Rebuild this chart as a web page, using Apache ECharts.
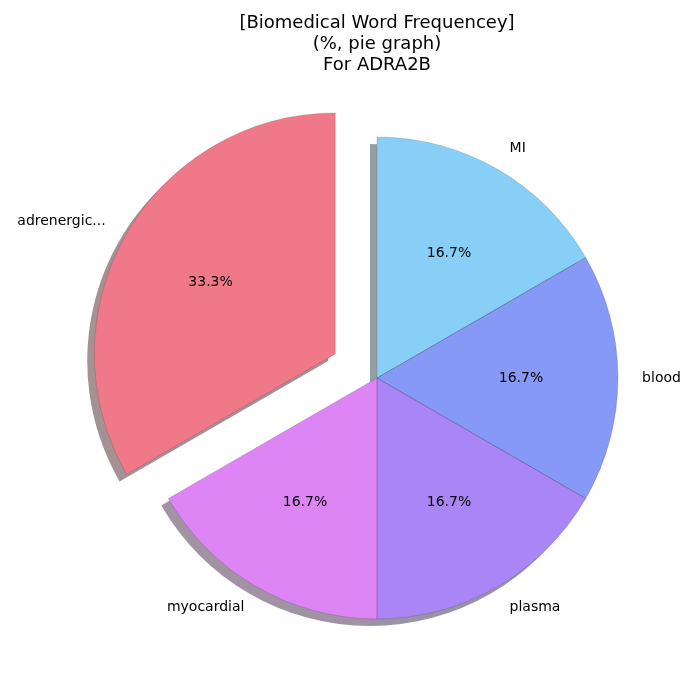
<!DOCTYPE html>
<html>
<head>
    <meta charset="utf-8">
    <title>ADRA2B pie</title>
    <script src="https://cdn.jsdelivr.net/npm/echarts@6/dist/echarts.min.js"></script>
</head>
<body style="margin:0;background:#fff;">
    <div id="main" style="width: 700px;height:700px;"></div>
    <script type="text/javascript">
        // words and counts, clockwise from 12 o'clock
        var words = ['MI', 'blood', 'plasma', 'myocardial', 'adrenergic...'];
        var counts = [1, 1, 1, 1, 2];
        var exploded = [false, false, false, false, true];
        var colors = [[135, 207, 247], [135, 153, 247], [170, 133, 245], [222, 133, 245], [240, 121, 137]];

        var cx = 377, cy = 378, R = 241;

        function rgb(c) { return 'rgb(' + c.join(',') + ')'; }
        function shadowOf(c) {
            return 'rgba(' + c.map(function (v) { return Math.round(v * 0.3); }).join(',') + ',0.5)';
        }

        var pieData = [], plainData = [];
        for (var i = 0; i < words.length; i++) {
            pieData.push({
                name: words[i], value: counts[i], selected: exploded[i],
                itemStyle: { color: rgb(colors[i]), shadowColor: shadowOf(colors[i]) }
            });
            plainData.push({ name: words[i], value: counts[i], selected: exploded[i] });
        }

        // shared pie settings
        function pieBase(radius) {
            return {
                type: 'pie',
                center: [cx, cy],
                radius: [0, radius],
                startAngle: 90,
                clockwise: true,
                selectedMode: 'multiple',
                selectedOffset: 0.2 * R,
                avoidLabelOverlap: false,
                silent: true,
                emphasis: { disabled: true }
            };
        }

        var font = 'DejaVu Sans';

        // filled wedges with drop shadow + outer word labels
        var wedges = pieBase(R);
        wedges.itemStyle = { borderWidth: 0, shadowBlur: 0, shadowOffsetX: -7, shadowOffsetY: 7 };
        wedges.label = {
            position: 'outside', alignTo: 'none', distanceToLabelLine: 0,
            fontFamily: font, fontSize: 14, color: '#000', formatter: '{b}'
        };
        wedges.labelLine = { show: false, length: 0.1 * R, length2: 0 };
        wedges.data = pieData;

        // thin edges, no shadow
        var edges = pieBase(R);
        edges.z = 3;
        edges.itemStyle = { color: 'rgba(0,0,0,0)', borderColor: 'rgba(0,0,0,0.22)', borderWidth: 0.6 };
        edges.label = { show: false };
        edges.labelLine = { show: false };
        edges.data = plainData;

        // invisible ring to place percentage labels at 0.6 R
        var pct = pieBase(1.17 * R);
        pct.z = 4;
        pct.itemStyle = { color: 'rgba(0,0,0,0)' };
        pct.label = {
            position: 'inside', fontFamily: font, fontSize: 14, color: '#000',
            formatter: function (p) { return p.percent.toFixed(1) + '%'; }
        };
        pct.labelLine = { show: false };
        pct.data = plainData;

        var myChart = echarts.init(document.getElementById('main'));
        myChart.setOption({
            animation: false,
            title: {
                text: '[Biomedical Word Frequencey]\n(%, pie graph)\nFor ADRA2B',
                left: 372, top: 8, textAlign: 'center',
                textStyle: { fontFamily: font, fontWeight: 'normal', fontSize: 18, lineHeight: 21, color: '#000' }
            },
            series: [wedges, edges, pct]
        });
    </script>
</body>
</html>
